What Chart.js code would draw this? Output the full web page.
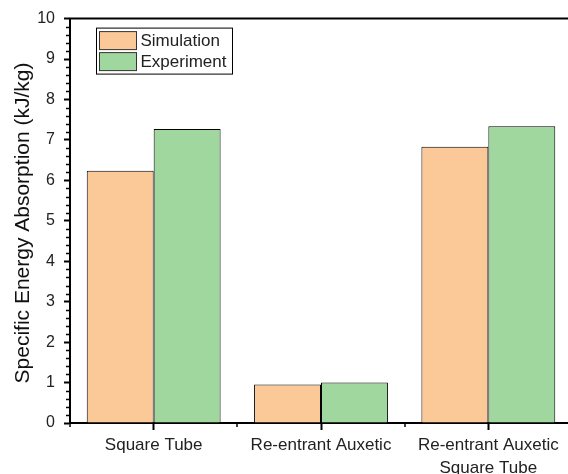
<!DOCTYPE html>
<html>
<head>
<meta charset="utf-8">
<script src="https://cdn.jsdelivr.net/npm/chart.js@4.4.1/dist/chart.umd.min.js"></script>
<style>
  html, body { margin: 0; padding: 0; background: #fff; overflow: hidden; }
  canvas { display: block; }
</style>
</head>
<body>
<canvas id="c" width="574" height="474"></canvas>
<script>
// Specific energy absorption of the three structures
const categories = ['Square Tube', 'Re-entrant Auxetic', ['Re-entrant Auxetic', 'Square Tube']];
const simulation = [6.24, 0.95, 6.83];
const experiment = [7.27, 1.00, 7.34];
const seriesNames = ['Simulation', 'Experiment'];
const yTicks = [0, 1, 2, 3, 4, 5, 6, 7, 8, 9, 10];
const yMinorStep = 0.2;
const yTitle = 'Specific Energy Absorption (kJ/kg)';

const FONT = '"Liberation Sans", Arial, sans-serif';
const ORANGE = '#fbc898';
const GREEN = '#9fd79e';

// Minor ticks, top frame line, y-axis title and boxed legend
const framePlugin = {
  id: 'frame',
  afterDraw(chart) {
    const { ctx, chartArea: a, scales: { x, y } } = chart;
    ctx.save();
    ctx.strokeStyle = '#000';
    // y minor ticks
    ctx.lineWidth = 1.5;
    const yMin = yTicks[0], yMax = yTicks[yTicks.length - 1];
    const n = Math.round((yMax - yMin) / yMinorStep);
    for (let i = 0; i <= n; i++) {
      const v = yMin + i * yMinorStep;
      if (Math.abs(v - Math.round(v)) < 1e-6) continue;
      const py = Math.round(y.getPixelForValue(v)) + 0.5;
      ctx.beginPath();
      ctx.moveTo(a.left - 4, py);
      ctx.lineTo(a.left, py);
      ctx.stroke();
    }
    // x minor ticks at category boundaries
    for (let i = 0; i <= categories.length; i++) {
      const px = Math.round(x.getPixelForValue(i - 0.5));
      ctx.beginPath();
      ctx.moveTo(px, a.bottom);
      ctx.lineTo(px, a.bottom + 4);
      ctx.stroke();
    }
    // top frame line
    ctx.lineWidth = 2;
    ctx.beginPath();
    ctx.moveTo(a.left - 1, a.top);
    ctx.lineTo(a.right, a.top);
    ctx.stroke();

    // y-axis title, rotated
    ctx.save();
    ctx.translate(23, 223);
    ctx.rotate(-Math.PI / 2);
    ctx.font = '21px ' + FONT;
    ctx.fillStyle = '#111';
    ctx.textAlign = 'center';
    ctx.textBaseline = 'middle';
    ctx.fillText(yTitle, 0, 0);
    ctx.restore();

    // legend box
    const lx = a.left + 26.5, ly = a.top + 9.5;
    const bw = 136, bh = 46;
    ctx.lineWidth = 1;
    ctx.strokeStyle = '#000';
    ctx.strokeRect(lx, ly, bw, bh);
    const fills = [ORANGE, GREEN];
    ctx.font = '17px ' + FONT;
    ctx.textBaseline = 'middle';
    seriesNames.forEach((name, i) => {
      const sy = ly + 3.5 + i * 21;
      ctx.fillStyle = fills[i];
      ctx.fillRect(lx + 3, sy, 37, 18);
      ctx.strokeStyle = '#333';
      ctx.strokeRect(lx + 3, sy, 37, 18);
      ctx.fillStyle = '#222';
      ctx.fillText(name, lx + 44, sy + 9.5);
    });
    ctx.restore();
  }
};

new Chart(document.getElementById('c'), {
  type: 'bar',
  data: {
    labels: categories,
    datasets: [
      { label: seriesNames[0], data: simulation, backgroundColor: ORANGE, borderColor: '#000', borderWidth: 1 },
      { label: seriesNames[1], data: experiment, backgroundColor: GREEN, borderColor: '#000', borderWidth: 1 }
    ]
  },
  options: {
    responsive: false,
    animation: false,
    devicePixelRatio: 1,
    layout: { padding: { top: 17, right: 2, left: 0, bottom: 0 } },
    datasets: { bar: { barPercentage: 1.0, categoryPercentage: 0.8 } },
    plugins: { legend: { display: false }, tooltip: { enabled: false } },
    scales: {
      x: {
        offset: true,
        grid: { display: true, drawOnChartArea: false, offset: false, tickLength: 7, tickWidth: 2, tickColor: '#000' },
        border: { display: true, color: '#000', width: 2 },
        ticks: { color: '#222', font: { family: FONT, size: 17, lineHeight: 1.35 }, padding: 4, maxRotation: 0, autoSkip: false },
        afterFit(scale) { scale.height = 51; }
      },
      y: {
        min: yTicks[0],
        max: yTicks[yTicks.length - 1],
        afterBuildTicks(scale) { scale.ticks = yTicks.map(v => ({ value: v })); },
        grid: { display: true, drawOnChartArea: false, tickLength: 6, tickWidth: 2, tickColor: '#000' },
        border: { display: true, color: '#000', width: 2 },
        ticks: { color: '#222', font: { family: FONT, size: 16 }, padding: 9 },
        title: { display: false },
        afterFit(scale) { scale.width = 70; }
      }
    }
  },
  plugins: [framePlugin]
});
</script>
</body>
</html>
